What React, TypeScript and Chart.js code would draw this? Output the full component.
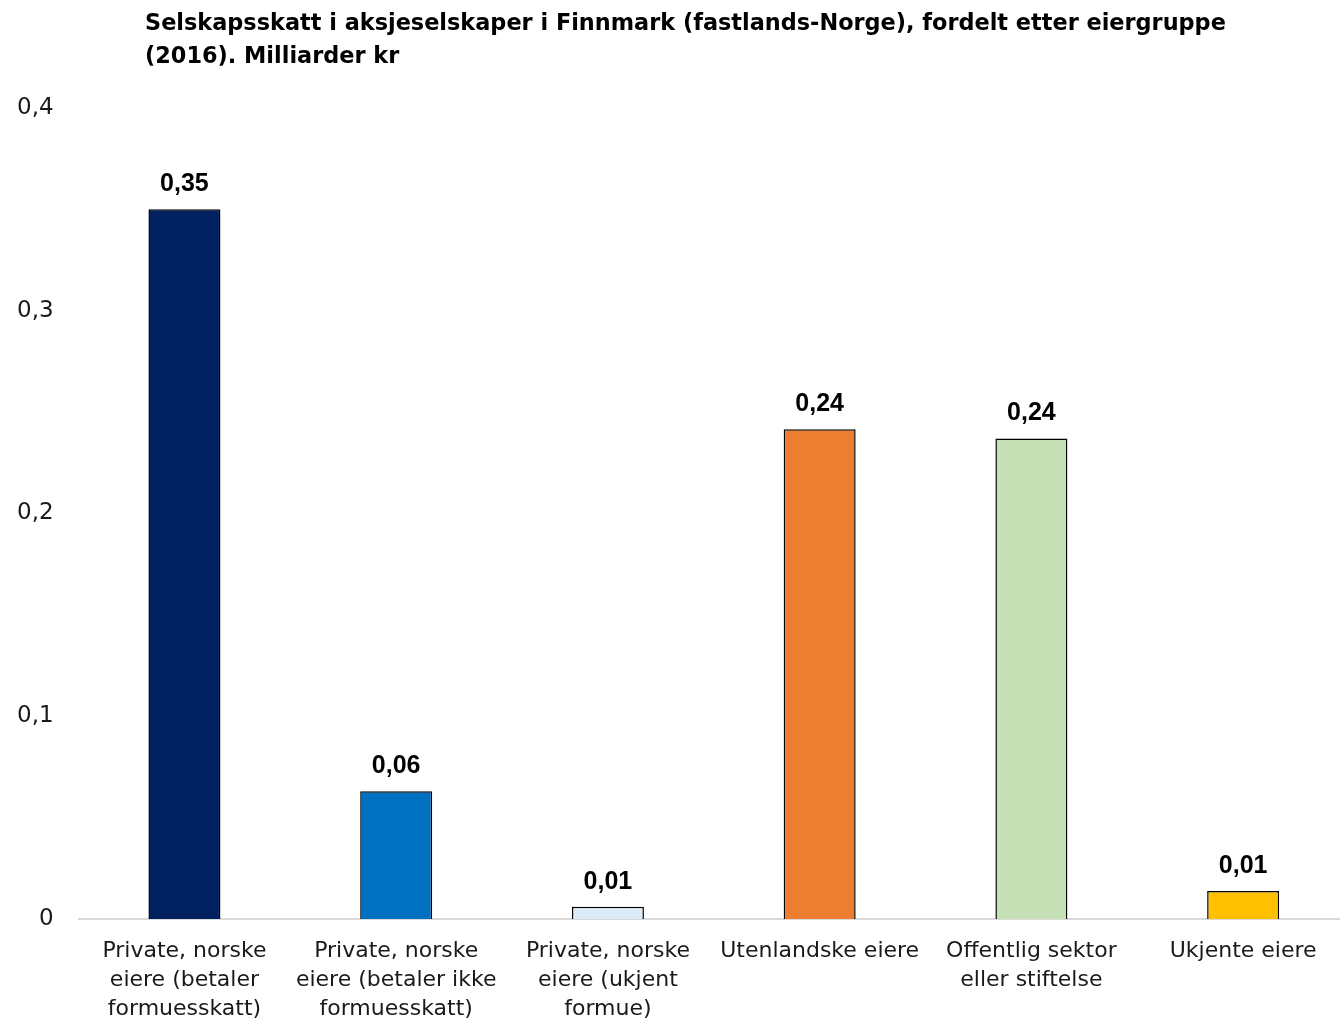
import React, { useEffect, useRef } from "react";
import { Chart, registerables } from "chart.js";

Chart.register(...registerables);

const titleLines = [
  "Selskapsskatt i aksjeselskaper i Finnmark (fastlands-Norge), fordelt etter eiergruppe",
  "(2016). Milliarder kr",
];
const categories: string[][] = [
  ["Private, norske", "eiere (betaler", "formuesskatt)"],
  ["Private, norske", "eiere (betaler ikke", "formuesskatt)"],
  ["Private, norske", "eiere (ukjent", "formue)"],
  ["Utenlandske eiere"],
  ["Offentlig sektor", "eller stiftelse"],
  ["Ukjente eiere"],
];
const values = [0.35, 0.063, 0.006, 0.2415, 0.237, 0.0138];
const valueLabels = ["0,35", "0,06", "0,01", "0,24", "0,24", "0,01"];
const barColors = ["#002060", "#0070C0", "#DDEBF7", "#ED7D31", "#C5E0B4", "#FFC000"];
const yTicks = { min: 0, max: 0.4, step: 0.1 };

const FONT = "'DejaVu Sans', sans-serif";

const valueLabelPlugin = {
  id: "valueLabels",
  afterDatasetsDraw(chart: any) {
    const ctx = chart.ctx;
    const meta = chart.getDatasetMeta(0);
    ctx.save();
    ctx.font = "bold 25px Arial, 'Liberation Sans', sans-serif";
    ctx.fillStyle = "#000";
    ctx.textAlign = "center";
    ctx.textBaseline = "alphabetic";
    meta.data.forEach((bar: any, i: number) => {
      ctx.fillText(valueLabels[i], bar.x, bar.y - 18);
    });
    ctx.restore();
  },
};

export default function App() {
  const canvasRef = useRef<HTMLCanvasElement | null>(null);

  useEffect(() => {
    document.body.style.margin = "0";
    const chart = new Chart(canvasRef.current!, {
      type: "bar",
      data: {
        labels: categories,
        datasets: [
          {
            data: values,
            backgroundColor: barColors,
            borderColor: "#000000",
            borderWidth: 1.5,
            barPercentage: 0.34,
            categoryPercentage: 1,
          },
        ],
      },
      options: {
        animation: false,
        responsive: false,
        maintainAspectRatio: false,
        layout: { padding: { top: 108, left: -8, right: 0, bottom: -20 } },
        plugins: {
          legend: { display: false },
          title: { display: false },
          tooltip: { enabled: false },
        },
        scales: {
          x: {
            grid: { display: false, drawTicks: false },
            border: { display: true, color: "#D9D9D9", width: 2 },
            ticks: {
              color: "#1a1a1a",
              font: { family: FONT, size: 22, lineHeight: 1.32 },
              padding: 18,
              maxRotation: 0,
              autoSkip: false,
            },
          },
          y: {
            min: yTicks.min,
            max: yTicks.max,
            grid: { display: false, drawTicks: false },
            border: { display: false },
            ticks: {
              stepSize: yTicks.step,
              color: "#1a1a1a",
              font: { family: FONT, size: 23 },
              padding: 25,
              callback: (v: any) => (Number(v) === 0 ? "0" : Number(v).toFixed(1).replace(".", ",")),
            },
          },
        },
      },
      plugins: [valueLabelPlugin],
    });
    return () => chart.destroy();
  }, []);

  return (
    <div style={{ position: "relative", width: 1340, height: 1022, background: "#fff", overflow: "hidden" }}>
      <div
        style={{
          position: "absolute",
          left: 145,
          top: 6,
          fontFamily: FONT,
          fontWeight: "bold",
          fontSize: 22.4,
          lineHeight: "33px",
          color: "#000",
          whiteSpace: "nowrap",
        }}
      >
        {titleLines.map((l, i) => (
          <div key={i}>{l}</div>
        ))}
      </div>
      <canvas ref={canvasRef} width={1349} height={1022} style={{ display: "block" }} />
    </div>
  );
}
